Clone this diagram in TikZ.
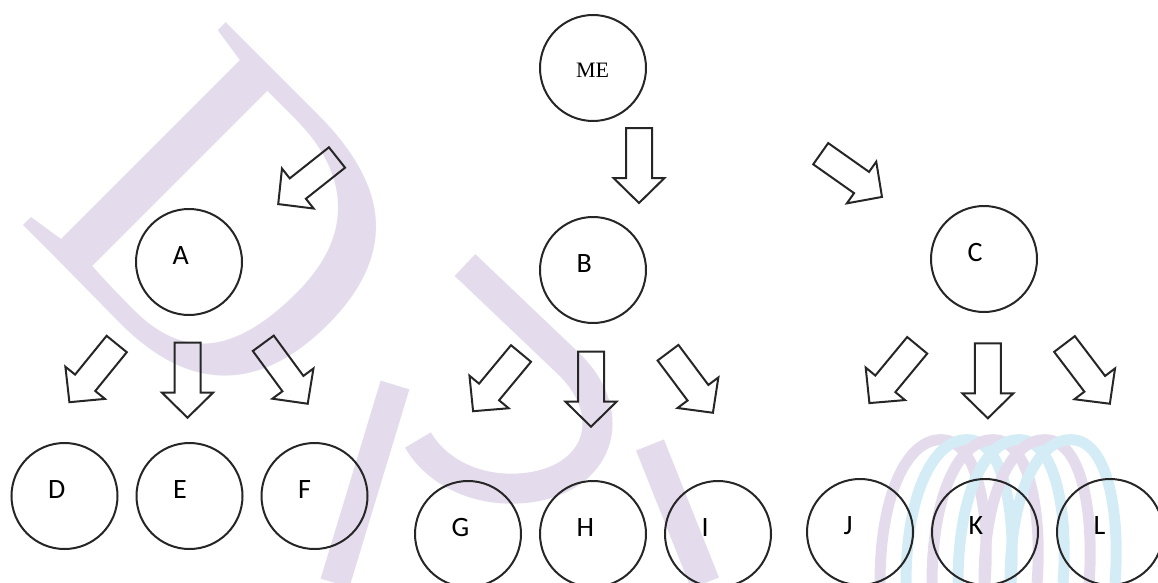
\documentclass[tikz,border=0pt]{standalone}
\usepackage{fontspec}
\usepackage{xcolor}
\usepackage{tikz}
\usetikzlibrary{positioning}

\newfontfamily\labelfont{Carlito}
\newfontfamily\chieffont{Liberation Serif}

\definecolor{logolilac}{HTML}{E4DCEC}
\definecolor{logoblue}{HTML}{D4ECF6}

\tikzset{
    pics/blockarrow/.style = {code={
        \draw[line width=2pt, black!85, line join=miter]
            (0,-13) -- (50,-13) -- (50,-25.5) -- (75,0) -- (50,25.5) -- (50,13) -- (0,13) -- cycle;
    }},
}

\begin{document}
\begin{tikzpicture}[
    x=1pt, y=-1pt,
    node distance = 0pt and 17pt,
    member/.style = {circle, draw=black!85, line width=2pt, minimum size=106pt,
                     inner sep=0pt, text width=33pt, align=left,
                     text height=20pt, text depth=16pt,
                     font=\labelfont\fontsize{28}{30}\selectfont},
    chief/.style = {member, text width=34pt, text height=24pt, text depth=4pt,
                    font=\chieffont\fontsize{22}{24}\selectfont},
    logoletter/.style = {text=logolilac, inner sep=0pt,
                         font=\chieffont\fontsize{438}{440}\selectfont},
    logoband/.style = {line width=30pt, logolilac},
                    ]
    \useasboundingbox (0,0) rectangle (1158,583);

    % faded logo in the background
    \node (logod) [logoletter, rotate=-45] at (227,227) {D};
    \draw[logoband] (465,265) -- (570,365) .. controls (620,415) and (600,480) .. (525,488)
                    .. controls (475,493) and (435,470) .. (418,440);
    \draw[logoband] (395,385) -- (335,583);
    \draw[logoband] (650,445) -- (705,583);
    \foreach \i/\c in {0/logolilac, 1/logoblue, 2/logolilac, 3/logoblue, 4/logolilac, 5/logoblue}
        \draw[line width=11pt, \c] (880+26*\i,583) .. controls (880+26*\i,490) and (910+26*\i,435) .. (945+26*\i,440)
                                   .. controls (980+26*\i,445) and (990+26*\i,520) .. (985+26*\i,583);

    % top of the tree
    \node (me) [chief] at (593,68) {ME};

    % second level
    \node (a) [member] at (189,262) {A};
    \node (b) [member] at (593,270) {B};
    \node (c) [member] at (984,259) {C};

    % third level
    \node (d) [member] at (64.5,496) {D};
    \node (e) [member, right=of d] {E};
    \node (f) [member, right=of e] {F};
    \node (g) [member] at (468,534) {G};
    \node (h) [member, right=of g] {H};
    \node (i) [member, right=of h] {I};
    \node (j) [member] at (860,532) {J};
    \node (k) [member, right=of j] {K};
    \node (l) [member, right=of k] {L};

    % block arrows
    \pic[rotate=218.4] at (337,157.5) {blockarrow};
    \pic[rotate=-90]   at (639,128)   {blockarrow};
    \pic[rotate=-35.2] at (820.7,153.7) {blockarrow};

    \pic[rotate=230.9] at (116.7,344) {blockarrow};
    \pic[rotate=-90]   at (187.5,342.7) {blockarrow};
    \pic[rotate=-53.7] at (263.3,343.3) {blockarrow};

    \pic[rotate=230.3] at (521,353.5) {blockarrow};
    \pic[rotate=-90]   at (591,351.7) {blockarrow};
    \pic[rotate=-53.2] at (668,352.7) {blockarrow};

    \pic[rotate=230.4] at (917.2,345.3) {blockarrow};
    \pic[rotate=-90]   at (987.8,343.3) {blockarrow};
    \pic[rotate=-52.8] at (1064.5,344) {blockarrow};
\end{tikzpicture}
\end{document}
